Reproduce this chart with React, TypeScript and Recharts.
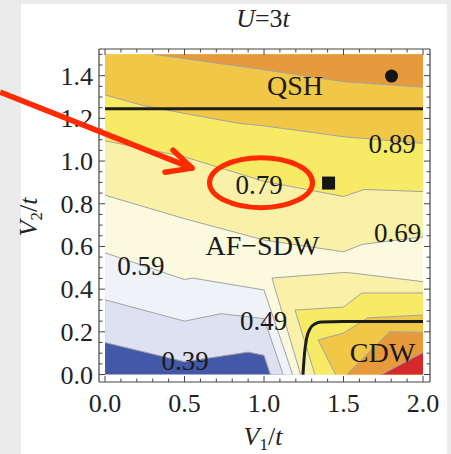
import React from "react";
import { ComposedChart, Scatter, XAxis, YAxis, ReferenceLine } from "recharts";

type Pt = { x: number; y: number };

// --- data (V1/t, V2/t) ---

const xTicks = [0, 0.1, 0.2, 0.3, 0.4, 0.5, 0.6, 0.7, 0.8, 0.9, 1, 1.1, 1.2, 1.3, 1.4, 1.5, 1.6, 1.7, 1.8, 1.9, 2];
const yTicks = [
  0, 0.05, 0.1, 0.15, 0.2, 0.25, 0.3, 0.35, 0.4, 0.45, 0.5, 0.55, 0.6, 0.65, 0.7, 0.75,
  0.8, 0.85, 0.9, 0.95, 1, 1.05, 1.1, 1.15, 1.2, 1.25, 1.3, 1.35, 1.4, 1.45, 1.5,
];
const xLabels = [0, 0.5, 1, 1.5, 2];
const yLabels = [0, 0.2, 0.4, 0.6, 0.8, 1, 1.2, 1.4];

const corners: Pt[] = [
  { x: 0, y: 0 },
  { x: 2, y: 0 },
  { x: 2, y: 1.5 },
  { x: 0, y: 1.5 },
];

// contour lines
const c039: Pt[] = [
  { x: 0, y: 0.15 }, { x: 0.5, y: 0.06 }, { x: 0.9, y: 0.105 }, { x: 1.0, y: 0.09 }, { x: 1.04, y: 0 },
];
const c049: Pt[] = [
  { x: 0, y: 0.35 }, { x: 0.5, y: 0.25 }, { x: 0.73, y: 0.285 }, { x: 1.0, y: 0.262 }, { x: 1.12, y: 0 },
];
const c059: Pt[] = [
  { x: 0, y: 0.57 }, { x: 0.5, y: 0.445 }, { x: 0.55, y: 0.452 }, { x: 1.0, y: 0.396 }, { x: 1.18, y: 0 },
];
const c069a: Pt[] = [
  { x: 0, y: 0.84 }, { x: 0.5, y: 0.73 }, { x: 1.0, y: 0.63 }, { x: 1.5, y: 0.575 }, { x: 1.62, y: 0.61 }, { x: 2, y: 0.645 },
];
const c069b: Pt[] = [
  { x: 1.23, y: 0 }, { x: 1.05, y: 0.452 }, { x: 1.5, y: 0.478 }, { x: 1.55, y: 0.476 }, { x: 2, y: 0.435 },
];
const c079a: Pt[] = [
  { x: 0, y: 1.095 }, { x: 0.5, y: 1.02 }, { x: 1.0, y: 0.905 }, { x: 1.5, y: 0.834 }, { x: 1.63, y: 0.867 }, { x: 2, y: 0.857 },
];
const c079b: Pt[] = [
  { x: 1.32, y: 0 }, { x: 1.195, y: 0.302 }, { x: 1.5, y: 0.316 }, { x: 1.615, y: 0.382 }, { x: 2, y: 0.382 },
];
const c089a: Pt[] = [
  { x: 0, y: 1.31 }, { x: 0.23, y: 1.262 }, { x: 0.5, y: 1.223 }, { x: 0.84, y: 1.177 }, { x: 1.0, y: 1.165 }, { x: 1.5, y: 1.114 }, { x: 2, y: 1.083 },
];
const c089b: Pt[] = [
  { x: 1.45, y: 0 }, { x: 1.34, y: 0.162 }, { x: 1.5, y: 0.194 }, { x: 1.65, y: 0.265 }, { x: 2, y: 0.279 },
];
const c099a: Pt[] = [
  { x: 0.31, y: 1.5 }, { x: 1.0, y: 1.428 }, { x: 1.5, y: 1.372 }, { x: 2, y: 1.346 },
];
const c099b: Pt[] = [
  { x: 1.52, y: 0 }, { x: 1.79, y: 0.2 }, { x: 2, y: 0.198 },
];
const c109: Pt[] = [
  { x: 1.74, y: 0 }, { x: 2, y: 0.103 },
];

// phase boundaries
const qshLine: Pt[] = [{ x: 0, y: 1.245 }, { x: 2, y: 1.245 }];
const cdwLine: Pt[] = [
  { x: 1.245, y: 0 }, { x: 1.255, y: 0.1 }, { x: 1.268, y: 0.17 }, { x: 1.29, y: 0.215 },
  { x: 1.32, y: 0.237 }, { x: 1.36, y: 0.246 }, { x: 1.5, y: 0.248 }, { x: 2, y: 0.248 },
];

const circlePts: Pt[] = [{ x: 1.802, y: 1.398 }];
const squarePts: Pt[] = [{ x: 1.406, y: 0.897 }];
const highlightPts: Pt[] = [{ x: 0.981, y: 0.899 }];

const contourLabels = [
  { x: 0.503, y: 0.021, text: "0.39" },
  { x: 0.997, y: 0.208, text: "0.49" },
  { x: 0.226, y: 0.466, text: "0.59" },
  { x: 1.84, y: 0.62, text: "0.69" },
  { x: 0.969, y: 0.845, text: "0.79" },
  { x: 1.805, y: 1.037, text: "0.89" },
];
const phaseLabels = [
  { x: 1.195, y: 1.309, text: "QSH" },
  { x: 0.99, y: 0.56, text: "AF\u2212SDW" },
  { x: 1.745, y: 0.059, text: "CDW" },
];

// red arrow pointing at the 0.79 label
const arrowShaft: Pt[] = [{ x: -0.66, y: 1.323 }, { x: 0.547, y: 0.967 }];
const arrowArmA: Pt[] = [{ x: 0.428, y: 1.051 }, { x: 0.547, y: 0.967 }];
const arrowArmB: Pt[] = [{ x: 0.377, y: 0.948 }, { x: 0.547, y: 0.967 }];

// --- styles ---
const BLUE = "#4458a8";
const LAVENDER = "#dde1f2";
const PALE = "#eff2f6";
const CREAM = "#fbfadf";
const LIGHT_YELLOW = "#f9f1a8";
const YELLOW = "#f7ea64";
const GOLD = "#f1c747";
const ORANGE = "#e69a3c";
const RED = "#d42a2e";
const CONTOUR = "#a3a3a3";
const FRAME = "#444";
const ANNOT = "#ff2a00";
const SERIF = "'Liberation Serif', 'DejaVu Serif', serif";

const [bl, br, tr, tl] = corners;
const bands: { pts: Pt[]; color: string }[] = [
  { pts: corners, color: BLUE },
  { pts: [...c039, br, tr, tl], color: LAVENDER },
  { pts: [...c049, br, tr, tl], color: PALE },
  { pts: [...c059, br, tr, tl], color: CREAM },
  { pts: [...c069a, tr, tl], color: LIGHT_YELLOW },
  { pts: [...c069b, br], color: LIGHT_YELLOW },
  { pts: [...c079a, tr, tl], color: YELLOW },
  { pts: [...c079b, br], color: YELLOW },
  { pts: [...c089a, tr, tl], color: GOLD },
  { pts: [...c089b, br], color: GOLD },
  { pts: [...c099a, tr], color: ORANGE },
  { pts: [...c099b, br], color: ORANGE },
  { pts: [...c109, br], color: RED },
];
void bl;

const contours = [c039, c049, c059, c069a, c069b, c079a, c079b, c089a, c089b, c099a, c099b, c109];

const isIn = (arr: number[], v: number) => arr.some((a) => Math.abs(a - v) < 1e-9);
const tickText = { fontFamily: SERIF, fontSize: 26, fill: "#222" };

function BottomTick(p: any) {
  const major = isIn(xLabels, p.payload.value);
  return (
    <g>
      <line x1={p.x} x2={p.x} y1={p.y} y2={p.y - (major ? 6 : 3.5)} stroke={FRAME} />
      {major && (
        <text x={p.x} y={p.y + 30} textAnchor="middle" style={tickText}>
          {p.payload.value.toFixed(1)}
        </text>
      )}
    </g>
  );
}
function TopTick(p: any) {
  const major = isIn(xLabels, p.payload.value);
  return <line x1={p.x} x2={p.x} y1={p.y} y2={p.y + (major ? 6 : 3.5)} stroke={FRAME} />;
}
function LeftTick(p: any) {
  const major = isIn(yLabels, p.payload.value);
  return (
    <g>
      <line x1={p.x} x2={p.x + (major ? 6 : 3.5)} y1={p.y} y2={p.y} stroke={FRAME} />
      {major && (
        <text x={p.x - 6} y={p.y + 9} textAnchor="end" style={tickText}>
          {p.payload.value.toFixed(1)}
        </text>
      )}
    </g>
  );
}
function RightTick(p: any) {
  const major = isIn(yLabels, p.payload.value);
  return <line x1={p.x} x2={p.x - (major ? 6 : 3.5)} y1={p.y} y2={p.y} stroke={FRAME} />;
}

const noShape = () => <g />;
const labelShape = (size: number) => (p: any) => (
  <text x={p.cx} y={p.cy} textAnchor="middle" fontFamily={SERIF} fontSize={size} fill="#1a1a1a">
    {p.payload?.text ?? p.text}
  </text>
);

export default function App() {
  const axisLine = { stroke: FRAME, strokeWidth: 1.2 };
  return (
    <div style={{ position: "fixed", left: 0, top: 0, width: 451, height: 454, background: "#ebebeb", overflow: "hidden" }}>
      <div style={{ position: "absolute", left: 21, top: 4, width: 426, height: 450, background: "#fff" }} />
      <div style={{ position: "absolute", left: 0, top: 0 }}>
        <ComposedChart width={451} height={454} margin={{ top: 0, right: 0, bottom: 0, left: 0 }} style={{ overflow: "visible" }}>
          <XAxis type="number" dataKey="x" domain={[-0.038, 2.044]} allowDataOverflow ticks={xTicks} interval={0}
            tickSize={0} tickMargin={0} tickLine={false} tick={BottomTick} height={72} axisLine={axisLine} />
          <XAxis xAxisId="top" orientation="top" type="number" dataKey="x" domain={[-0.038, 2.044]} allowDataOverflow
            ticks={xTicks} interval={0} tickSize={0} tickMargin={0} tickLine={false} tick={TopTick} height={49} axisLine={axisLine} />
          <YAxis type="number" dataKey="y" domain={[-0.035, 1.525]} allowDataOverflow ticks={yTicks} interval={0}
            tickSize={0} tickMargin={0} tickLine={false} tick={LeftTick} width={99} axisLine={axisLine} />
          <YAxis yAxisId="right" orientation="right" type="number" dataKey="y" domain={[-0.035, 1.525]} allowDataOverflow
            ticks={yTicks} interval={0} tickSize={0} tickMargin={0} tickLine={false} tick={RightTick} width={21} axisLine={axisLine} />

          {bands.map((b, i) => (
            <Scatter key={"band" + i} data={b.pts} shape={noShape} line={{ fill: b.color, stroke: "none" }} isAnimationActive={false} />
          ))}
          {contours.map((c, i) => (
            <Scatter key={"c" + i} data={c} shape={noShape} line={{ stroke: CONTOUR, strokeWidth: 1 }} isAnimationActive={false} />
          ))}
          <Scatter data={qshLine} shape={noShape} line={{ stroke: "#1c1c1c", strokeWidth: 3 }} isAnimationActive={false} />
          <Scatter data={cdwLine} shape={noShape} line={{ stroke: "#1c1c1c", strokeWidth: 3 }} lineJointType="monotoneX" isAnimationActive={false} />
          <Scatter data={circlePts} shape={(p: any) => <circle cx={p.cx} cy={p.cy} r={6.5} fill="#151515" />} isAnimationActive={false} />
          <Scatter data={squarePts} shape={(p: any) => <rect x={p.cx - 6.5} y={p.cy - 6.5} width={13} height={13} fill="#151515" />} isAnimationActive={false} />
          <Scatter data={contourLabels} shape={labelShape(27)} isAnimationActive={false} />
          <Scatter data={phaseLabels} shape={labelShape(28)} isAnimationActive={false} />
          <Scatter data={highlightPts} shape={(p: any) => (
            <ellipse cx={p.cx} cy={p.cy} rx={51.5} ry={25} fill="none" stroke={ANNOT} strokeWidth={5} />
          )} isAnimationActive={false} />

          <ReferenceLine segment={arrowShaft} ifOverflow="visible" stroke={ANNOT} strokeWidth={5.5} zIndex={2000} />
          <ReferenceLine segment={arrowArmA} ifOverflow="visible" stroke={ANNOT} strokeWidth={5.5} strokeLinecap="round" zIndex={2000} />
          <ReferenceLine segment={arrowArmB} ifOverflow="visible" stroke={ANNOT} strokeWidth={5.5} strokeLinecap="round" zIndex={2000} />
        </ComposedChart>
      </div>
      <svg width={451} height={454} style={{ position: "absolute", left: 0, top: 0, pointerEvents: "none" }}>
        <text x={263} y={27} textAnchor="middle" fontFamily={SERIF} fontSize={26} fill="#222">
          <tspan fontStyle="italic">U</tspan>=3<tspan fontStyle="italic">t</tspan>
        </text>
        <text x={263} y={445} textAnchor="middle" fontFamily={SERIF} fontSize={26} fill="#222">
          <tspan fontStyle="italic">V</tspan>
          <tspan fontSize={17} dy={5}>1</tspan>
          <tspan dy={-5}>/</tspan>
          <tspan fontStyle="italic">t</tspan>
        </text>
        <text transform="translate(37,217) rotate(-90)" textAnchor="middle" fontFamily={SERIF} fontSize={26} fill="#222">
          <tspan fontStyle="italic">V</tspan>
          <tspan fontSize={17} dy={5}>2</tspan>
          <tspan dy={-5}>/</tspan>
          <tspan fontStyle="italic">t</tspan>
        </text>
      </svg>
    </div>
  );
}
